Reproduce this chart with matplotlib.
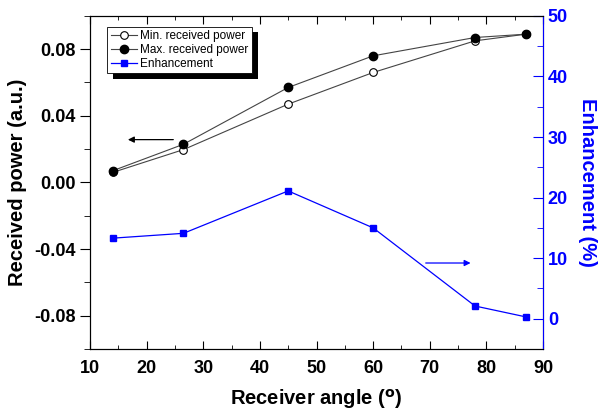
import matplotlib.pyplot as plt
import matplotlib.patheffects as pe
from matplotlib.ticker import MultipleLocator

plt.rcParams['font.family'] = ['Liberation Sans', 'DejaVu Sans']
plt.rcParams['font.weight'] = 'bold'

# data
angle = [14, 26.5, 45, 60, 78, 87]
min_power = [0.006, 0.0197, 0.047, 0.066, 0.085, 0.089]
max_power = [0.007, 0.0229, 0.057, 0.076, 0.087, 0.089]
enhancement = [13.3, 14.1, 21.1, 15.0, 2.1, 0.3]

fig = plt.figure(figsize=(6, 4.17), dpi=100)
ax = fig.add_axes([0.15, 0.163, 0.755, 0.799])
ax2 = ax.twinx()

l1, = ax.plot(angle, min_power, '-o', color='#444444', lw=0.8, mfc='white', mec='black',
              mew=0.8, ms=5.5, label='Min. received power')
l2, = ax.plot(angle, max_power, '-o', color='#444444', lw=0.8, mfc='black', mec='black',
              ms=6, label='Max. received power')
l3, = ax2.plot(angle, enhancement, '-s', color='#0000ff', lw=0.9, ms=4.5,
               label='Enhancement')

ax.set_xlim(10, 90)
ax.set_ylim(-0.1, 0.1)
ax2.set_ylim(-5, 50)

ax.xaxis.set_major_locator(MultipleLocator(10))
ax.xaxis.set_minor_locator(MultipleLocator(5))
ax.yaxis.set_major_locator(MultipleLocator(0.04))
ax.yaxis.set_minor_locator(MultipleLocator(0.02))
ax2.yaxis.set_major_locator(MultipleLocator(10))
ax2.yaxis.set_minor_locator(MultipleLocator(5))

ax.tick_params(axis='x', which='both', direction='in', top=True, labelsize=13, pad=8)
ax.tick_params(axis='x', which='major', length=6)
ax.tick_params(axis='x', which='minor', length=3)
ax.tick_params(axis='y', which='both', direction='out', labelsize=13)
ax.tick_params(axis='y', which='major', length=7)
ax.tick_params(axis='y', which='minor', length=4)
ax.yaxis.set_major_formatter(plt.FuncFormatter(lambda v, p: f'{v:.2f}'))
ax2.tick_params(axis='y', which='both', direction='in', colors='#0000ff', labelsize=13)
ax2.tick_params(axis='y', which='major', length=7)
ax2.tick_params(axis='y', which='minor', length=4)
ax2.spines['right'].set_color('#0000ff')

ax.set_xlabel('Receiver angle ($^{\\mathrm{o}}$)', fontsize=14.5, fontweight='bold', labelpad=7)
ax.set_ylabel('Received power (a.u.)', fontsize=14.5, fontweight='bold', labelpad=5)
ax2.set_ylabel('Enhancement (%)', fontsize=14.5, fontweight='bold', color='#0000ff',
               rotation=270, labelpad=21)

ax.annotate('', xy=(16.2, 0.0257), xytext=(25.2, 0.0257),
            arrowprops=dict(arrowstyle='-|>', color='black', lw=0.9, mutation_scale=9))
ax2.annotate('', xy=(77.7, 9.2), xytext=(68.8, 9.2),
             arrowprops=dict(arrowstyle='-|>', color='#0000ff', lw=0.9, mutation_scale=9))

leg = ax.legend(handles=[l1, l2, l3], loc='upper left', bbox_to_anchor=(0.025, 0.985),
                fontsize=8.5, frameon=True, fancybox=False, framealpha=1,
                handlelength=2.2, borderpad=0.3, labelspacing=0.15, handletextpad=0.3)
frame = leg.get_frame()
frame.set_edgecolor('black')
frame.set_linewidth(0.6)
frame.set_path_effects([pe.SimplePatchShadow(offset=(4, -4), shadow_rgbFace='black', alpha=1),
                        pe.Normal()])
for t in leg.get_texts():
    t.set_fontweight('normal')

fig.savefig('out.png', dpi=100)
